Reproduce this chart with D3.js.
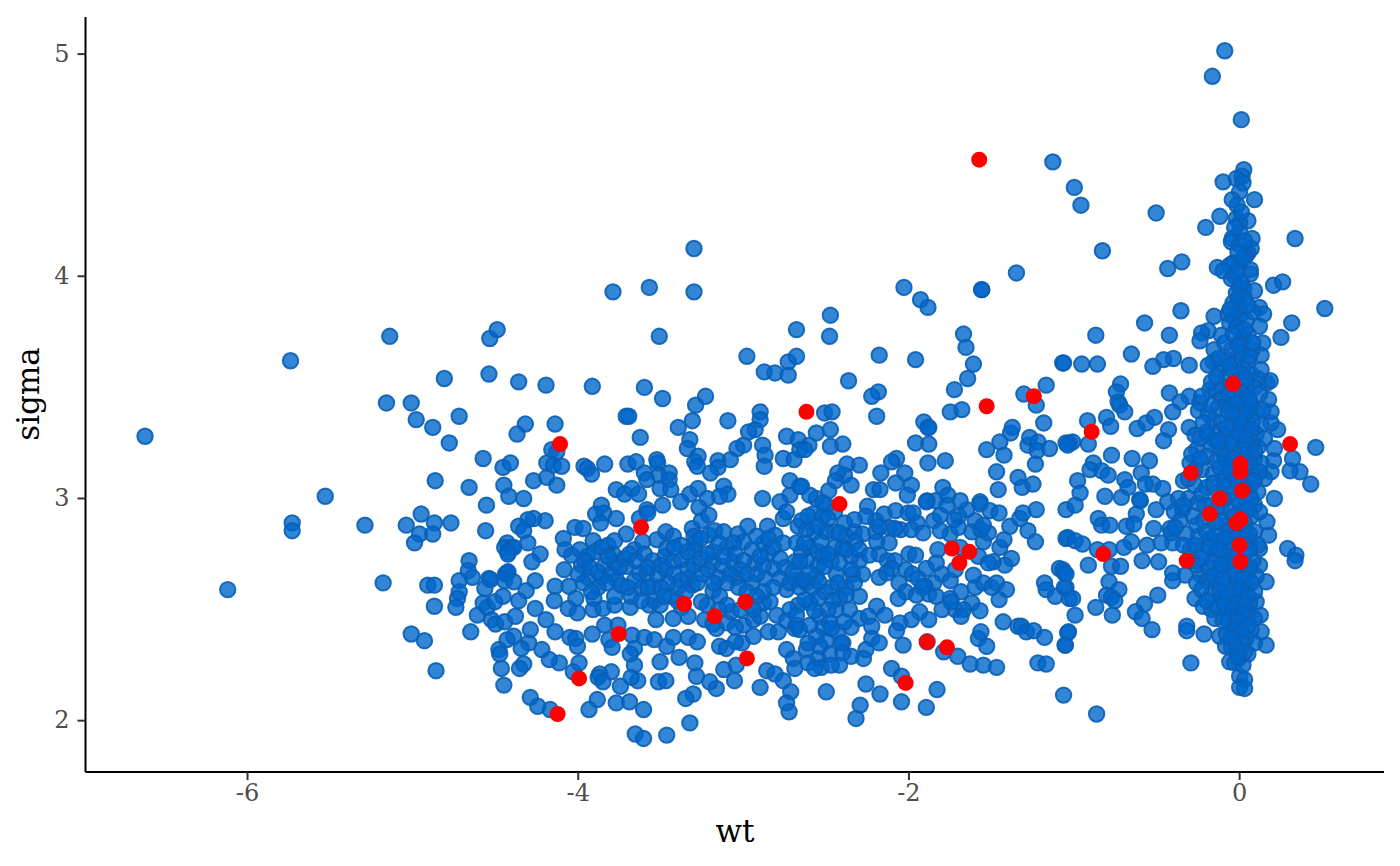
<!DOCTYPE html>
<html><head><meta charset="utf-8"><style>html,body{margin:0;background:#fff}svg{display:block}</style>
<script src="https://cdn.jsdelivr.net/npm/d3@7"></script></head><body><div id="c"></div>
<script>
const xTicks=[-6,-4,-2,0];
const yTicks=[2,3,4,5];
const xLabel="wt", yLabel="sigma";
const leftPoints=[[-6.62,3.28],[-6.12,2.59],[-5.74,3.62],[-5.53,3.01],[-5.73,2.89],[-5.73,2.855],[-5.29,2.88],[-5.18,2.62],[-5.14,3.73],[-5.16,3.43],[-5.01,3.43],[-4.98,3.355],[-4.88,3.32],[-4.81,3.54],[-4.72,3.37],[-4.78,3.25],[-4.54,3.56],[-4.535,3.72],[-4.49,3.76],[-4.575,3.18],[-4.865,3.08],[-4.66,3.05],[-4.555,2.97],[-4.56,2.855],[-4.95,2.93],[-5.04,2.88],[-4.87,2.89],[-4.77,2.89],[-4.96,2.84],[-4.99,2.80],[-4.88,2.84],[-4.455,3.14],[-4.41,3.16],[-4.45,3.06],[-4.42,3.01],[-4.43,2.80],[-4.445,2.78],[-4.425,2.76],[-4.40,2.78],[-4.66,2.72],[-4.665,2.675],[-4.64,2.645],[-4.72,2.63],[-4.91,2.61],[-4.87,2.61],[-4.72,2.58],[-4.73,2.55],[-4.74,2.51],[-4.87,2.515],[-4.61,2.475],[-4.65,2.40],[-5.01,2.39],[-4.93,2.36],[-4.86,2.225],[-4.575,2.53],[-4.55,2.51],[-4.54,2.64],[-4.53,2.635],[-4.565,2.595],[-4.505,2.535],[-4.455,2.56],[-4.525,2.455],[-4.50,2.435],[-4.445,2.445],[-4.48,2.32],[-4.475,2.30],[-4.465,2.235],[-4.45,2.16],[-4.43,2.665],[-4.44,2.66]];
const upperMid=[[-3.30,4.125],[-3.79,3.93],[-3.57,3.95],[-3.30,3.93],[-3.51,3.73],[-2.68,3.76],[-2.98,3.64],[-2.875,3.57],[-2.81,3.565],[-2.73,3.555],[-2.73,3.615],[-2.68,3.64],[-4.36,3.525],[-4.195,3.51],[-3.915,3.505],[-3.60,3.50],[-3.49,3.45],[-3.23,3.46],[-3.29,3.42],[-3.31,3.35],[-3.395,3.32],[-3.095,3.35],[-3.71,3.37],[-3.695,3.37],[-2.90,3.39],[-2.90,3.355],[-2.93,3.31],[-2.97,3.30],[-3.00,3.24],[-3.04,3.225],[-2.885,3.24],[-2.87,3.195],[-2.875,3.145],[-2.74,3.28],[-2.67,3.265],[-2.66,3.22],[-2.76,3.18],[-2.695,3.175],[-4.32,3.335],[-4.37,3.29],[-4.14,3.335],[-3.625,3.275],[-3.325,3.265],[-3.34,3.225],[-3.275,3.19],[-3.295,3.165],[-3.28,3.145],[-3.155,3.17],[-3.155,3.14],[-3.08,3.175],[-3.20,3.115],[-4.16,3.22],[-4.13,3.21],[-4.19,3.16],[-4.15,3.15],[-4.10,3.145],[-3.965,3.145],[-3.945,3.135],[-3.92,3.11],[-3.84,3.155],[-3.70,3.155],[-3.65,3.165],[-3.60,3.115],[-3.585,3.085],[-3.525,3.175],[-3.52,3.16],[-3.51,3.105],[-3.45,3.115],[-3.45,3.085],[-3.505,3.045],[-3.44,3.04],[-3.77,3.04],[-3.72,3.02],[-3.675,3.045],[-3.635,3.02],[-4.27,3.08],[-4.19,3.095],[-4.13,3.06],[-4.33,3.00],[-3.325,3.02],[-3.275,3.045],[-3.22,3.00],[-3.12,3.055],[-3.095,3.02],[-3.145,3.01],[-3.38,2.985],[-3.49,2.97],[-3.27,2.96],[-2.885,3.00],[-2.72,3.08],[-2.72,3.015],[-2.78,2.985],[-2.66,3.055],[-3.86,2.97],[-3.585,2.95]];
const lowerMid=[[-3.895,2.93],[-3.845,2.935],[-3.865,2.89],[-3.77,2.91],[-3.63,2.91],[-3.58,2.935],[-4.2,2.90],[-4.27,2.91],[-4.305,2.905],[-4.36,2.875],[-4.33,2.855],[-4.305,2.80],[-4.39,2.78],[-4.425,2.75],[-4.23,2.75],[-4.28,2.715],[-4.09,2.82],[-4.02,2.87],[-3.97,2.865],[-3.91,2.81],[-4.08,2.77],[-4.04,2.745],[-3.99,2.77],[-3.945,2.74],[-3.98,2.70],[-4.085,2.68],[-3.94,2.645],[-4.425,2.67],[-4.445,2.63],[-4.39,2.625],[-4.26,2.63],[-4.315,2.585],[-4.36,2.54],[-4.14,2.605],[-4.055,2.605],[-4.145,2.54],[-4.015,2.55],[-3.905,2.55],[-4.06,2.505],[-4.005,2.485],[-3.91,2.50],[-3.85,2.505],[-3.78,2.52],[-3.685,2.51],[-3.78,2.56],[-3.86,2.645],[-3.77,2.635],[-3.74,2.61],[-3.78,2.71],[-3.71,2.695],[-3.79,2.75],[-3.82,2.79],[-3.78,2.81],[-3.71,2.84],[-3.66,2.77],[-3.61,2.805],[-3.525,2.815],[-3.47,2.85],[-3.425,2.83],[-3.465,2.775],[-3.475,2.74],[-3.425,2.715],[-3.375,2.725],[-3.31,2.865],[-3.255,2.90],[-3.21,2.925],[-3.21,2.835],[-3.175,2.855],[-3.12,2.85],[-3.295,2.80],[-3.295,2.77],[-3.185,2.76],[-3.185,2.715],[-3.335,2.685],[-3.215,2.68],[-3.125,2.695],[-3.065,2.715],[-3.035,2.84],[-2.975,2.875],[-3.0,2.805],[-2.95,2.77],[-2.93,2.71],[-2.855,2.875],[-2.81,2.835],[-2.76,2.91],[-2.74,2.94],[-2.76,2.80],[-2.85,2.755],[-2.67,2.875],[-2.68,2.80],[-2.82,2.685],[-2.69,2.715],[-2.74,2.59],[-2.68,2.635],[-2.87,2.64],[-2.95,2.62],[-3.045,2.645],[-3.155,2.645],[-3.185,2.585],[-3.145,2.56],[-3.255,2.535],[-3.075,2.49],[-3.335,2.64],[-3.31,2.61],[-3.44,2.56],[-3.55,2.605],[-3.62,2.595],[-3.585,2.665],[-3.63,2.665],[-3.52,2.655],[-3.54,2.54],[-3.57,2.52],[-3.505,2.52],[-3.375,2.51],[-3.335,2.47],[-3.425,2.46],[-3.53,2.455],[-3.235,2.455],[-3.185,2.435],[-3.165,2.415],[-3.00,2.43],[-2.94,2.455],[-2.88,2.53],[-2.84,2.535],[-2.80,2.475],[-2.69,2.415],[-2.79,2.40],[-2.85,2.40],[-2.94,2.38],[-3.01,2.35],[-3.05,2.355],[-3.145,2.335],[-3.105,2.325],[-3.045,2.25],[-3.12,2.23],[-3.055,2.18],[-3.165,2.145],[-3.205,2.175],[-2.90,2.15],[-2.86,2.225],[-2.81,2.21],[-2.76,2.18],[-2.715,2.13],[-2.74,2.08],[-2.725,2.04],[-2.74,2.32],[-2.70,2.28],[-2.69,2.235],[-3.325,1.99],[-3.465,1.935],[-3.655,1.94],[-3.605,1.92],[-3.605,2.05],[-3.69,2.085],[-3.77,2.08],[-3.885,2.095],[-3.935,2.05],[-4.17,2.05],[-4.245,2.065],[-4.29,2.105],[-4.03,2.22],[-3.995,2.26],[-4.115,2.26],[-4.175,2.275],[-4.22,2.32],[-4.30,2.35],[-4.345,2.325],[-4.33,2.255],[-4.355,2.235],[-4.29,2.41],[-4.39,2.38],[-4.43,2.365],[-4.38,2.47],[-4.26,2.505],[-4.195,2.455],[-4.14,2.40],[-4.05,2.375],[-4.015,2.37],[-4.005,2.335],[-3.915,2.39],[-3.84,2.43],[-3.76,2.43],[-3.815,2.365],[-3.795,2.33],[-3.675,2.385],[-3.60,2.375],[-3.54,2.365],[-3.66,2.325],[-3.685,2.30],[-3.66,2.25],[-3.505,2.265],[-3.465,2.335],[-3.425,2.375],[-3.39,2.285],[-3.335,2.375],[-3.28,2.355],[-3.295,2.26],[-3.285,2.20],[-3.305,2.12],[-3.35,2.10],[-3.515,2.175],[-3.47,2.18],[-3.64,2.18],[-3.68,2.195],[-3.745,2.155],[-3.80,2.22],[-3.87,2.21],[-3.88,2.195],[-3.85,2.175]];
const midDense=[[-3.96,2.72],[-3.93,2.69],[-3.88,2.67],[-3.84,2.7],[-3.82,2.74],[-3.9,2.76],[-3.86,2.78],[-3.8,2.66],[-3.83,2.62],[-3.88,2.6],[-3.92,2.58],[-3.97,2.62],[-4.0,2.66],[-3.75,2.69],[-3.72,2.73],[-3.69,2.75],[-3.65,2.72],[-3.6,2.75],[-3.55,2.72],[-3.58,2.69],[-3.5,2.7],[-3.47,2.68],[-3.42,2.66],[-3.38,2.63],[-3.4,2.6],[-3.46,2.62],[-3.5,2.6],[-3.58,2.6],[-3.66,2.63],[-3.7,2.6],[-3.68,2.56],[-3.62,2.54],[-3.48,2.56],[-3.4,2.54],[-3.35,2.58],[-3.28,2.62],[-3.25,2.66],[-3.3,2.7],[-3.26,2.73],[-3.22,2.75],[-3.34,2.76],[-3.38,2.79],[-3.42,2.78],[-3.3,2.83],[-3.26,2.82],[-3.1,2.78],[-3.06,2.8],[-3.15,2.8],[-3.12,2.74],[-3.05,2.75],[-3.0,2.72],[-3.02,2.68],[-3.08,2.66],[-3.1,2.62],[-3.18,2.62],[-3.03,2.6],[-2.98,2.58],[-2.98,2.66],[-2.92,2.66],[-2.88,2.7],[-2.9,2.74],[-2.88,2.8],[-2.92,2.83],[-2.85,2.82],[-2.82,2.78],[-2.78,2.73],[-2.75,2.69],[-2.78,2.64],[-2.82,2.6],[-2.88,2.58],[-2.92,2.56],[-2.96,2.52],[-3.02,2.5],[-3.1,2.52],[-3.15,2.5],[-3.22,2.52],[-3.1,2.44],[-3.05,2.42],[-2.9,2.47],[-2.94,2.5],[-2.72,2.62],[-2.7,2.67],[-2.66,2.6],[-2.62,2.62],[-2.58,2.6],[-2.56,2.65],[-2.55,2.7],[-2.62,2.72],[-2.65,2.76],[-2.6,2.78],[-2.55,2.76],[-2.52,2.74],[-2.47,2.72],[-2.45,2.78],[-2.44,2.66],[-2.47,2.6],[-2.51,2.58],[-2.55,2.55],[-2.6,2.53],[-2.67,2.52],[-2.72,2.5],[-2.74,2.45],[-2.68,2.43],[-2.54,2.47],[-2.52,2.42],[-2.44,2.5],[-2.42,2.55],[-2.38,2.6],[-2.34,2.66],[-2.3,2.72],[-2.28,2.66],[-2.35,2.74],[-2.4,2.78],[-2.38,2.83],[-2.45,2.85],[-2.5,2.85],[-2.57,2.85],[-2.62,2.86],[-2.65,2.9],[-2.58,2.93],[-2.52,2.92],[-2.45,2.94],[-2.5,2.97],[-2.56,3.0],[-2.33,2.85],[-2.28,2.84],[-2.2,2.85],[-2.2,2.9],[-2.15,2.93],[-2.12,2.87],[-2.05,2.86],[-2.18,2.75],[-2.13,2.72],[-2.0,2.75],[-2.02,2.68],[-1.98,2.66],[-2.06,2.62],[-2.02,2.58],[-2.3,2.56],[-2.3,2.46],[-2.35,2.42],[-2.43,2.4],[-2.4,2.35],[-2.5,2.36],[-2.56,2.38],[-2.62,2.32],[-2.55,2.28],[-2.48,2.3],[-2.42,2.25],[-2.53,2.24],[-1.85,2.62],[-1.8,2.66],[-1.75,2.63],[-1.72,2.68],[-1.88,2.57],[-1.92,2.6],[-1.75,2.55],[-1.72,2.5],[-1.62,2.53],[-1.6,2.6],[-1.55,2.62],[-1.5,2.6],[-1.62,2.85],[-1.6,2.9],[-1.75,2.84],[-1.65,2.95],[-1.85,2.9],[-1.95,2.89],[-1.84,2.99],[-1.45,2.78],[-1.38,2.73],[-1.42,2.7],[-1.7,2.92]];
const upperRightMid=[[-2.03,3.95],[-1.93,3.895],[-1.885,3.86],[-1.56,3.94],[-1.56,3.94],[-1.35,4.015],[-2.475,3.825],[-2.48,3.73],[-2.18,3.645],[-1.96,3.625],[-1.67,3.74],[-1.655,3.68],[-1.61,3.605],[-1.645,3.54],[-1.725,3.49],[-1.75,3.39],[-1.68,3.40],[-2.365,3.53],[-2.185,3.48],[-2.225,3.46],[-2.195,3.37],[-2.51,3.385],[-2.465,3.39],[-2.475,3.31],[-2.56,3.295],[-2.475,3.235],[-2.40,3.245],[-2.605,3.24],[-2.63,3.22],[-1.91,3.345],[-1.88,3.32],[-1.885,3.32],[-1.96,3.25],[-1.88,3.245],[-1.885,3.16],[-1.78,3.17],[-2.075,3.18],[-2.105,3.165],[-2.30,3.15],[-2.375,3.155],[-2.43,3.115],[-2.39,3.105],[-2.445,3.08],[-2.35,3.06],[-2.485,3.035],[-2.17,3.115],[-2.025,3.115],[-2.08,3.07],[-1.985,3.06],[-2.01,3.015],[-2.215,3.04],[-2.175,3.04],[-1.89,2.99],[-1.795,3.05],[-1.765,3.015],[-1.69,2.99],[-1.57,2.985],[-1.46,3.04],[-1.47,3.12],[-1.34,3.095],[-1.315,3.05],[-1.25,3.065],[-1.235,3.155],[-1.425,3.195],[-1.53,3.22],[-1.45,3.255],[-1.385,3.295],[-1.375,3.32],[-1.28,3.24],[-1.27,3.275],[-1.22,3.255],[-1.225,3.215],[-1.15,3.225],[-1.05,3.25],[-1.03,3.25],[-1.185,3.34],[-1.23,3.42],[-1.305,3.47],[-1.17,3.51],[-1.07,3.61],[-2.65,3.055],[-2.60,3.015],[-2.52,2.98]];
const lowerRightMid=[[-2.25,2.965],[-2.26,2.92],[-2.33,2.905],[-2.39,2.89],[-2.49,2.91],[-2.61,2.92],[-2.55,2.875],[-2.42,2.845],[-2.53,2.805],[-2.63,2.80],[-2.49,2.75],[-2.38,2.77],[-2.325,2.805],[-2.30,2.77],[-2.24,2.745],[-2.195,2.805],[-2.18,2.875],[-2.12,2.80],[-2.08,2.945],[-2.085,2.865],[-2.005,2.935],[-1.975,2.935],[-1.985,2.86],[-1.915,2.845],[-1.81,2.855],[-1.895,2.985],[-1.81,2.925],[-1.77,2.97],[-1.725,2.905],[-1.70,2.87],[-1.57,2.975],[-1.51,2.945],[-1.455,2.935],[-1.39,2.875],[-1.33,2.91],[-1.31,2.935],[-1.23,2.95],[-1.28,2.855],[-1.235,2.805],[-1.425,2.815],[-1.55,2.805],[-1.52,2.845],[-1.565,2.86],[-1.55,2.88],[-1.69,2.78],[-1.61,2.655],[-1.58,2.74],[-1.49,2.715],[-1.52,2.71],[-1.825,2.77],[-1.835,2.71],[-1.895,2.685],[-1.96,2.745],[-1.945,2.64],[-1.905,2.605],[-2.085,2.72],[-2.105,2.685],[-2.135,2.665],[-2.18,2.645],[-1.47,2.62],[-1.41,2.59],[-1.455,2.545],[-1.685,2.58],[-1.835,2.56],[-1.955,2.565],[-2.065,2.55],[-1.745,2.535],[-1.67,2.50],[-1.685,2.47],[-1.57,2.495],[-1.80,2.50],[-1.88,2.455],[-1.935,2.49],[-1.985,2.455],[-2.055,2.44],[-2.075,2.405],[-2.035,2.34],[-2.195,2.515],[-2.145,2.475],[-2.245,2.47],[-2.225,2.425],[-2.225,2.37],[-2.18,2.35],[-2.26,2.32],[-2.275,2.28],[-2.35,2.29],[-2.41,2.35],[-2.54,2.335],[-2.61,2.35],[-2.47,2.25],[-2.61,2.26],[-2.57,2.235],[-2.40,2.305],[-2.50,2.13],[-2.26,2.165],[-2.175,2.12],[-2.295,2.07],[-2.32,2.01],[-2.105,2.235],[-2.045,2.20],[-2.045,2.085],[-1.895,2.06],[-1.83,2.14],[-1.89,2.355],[-1.79,2.31],[-1.705,2.29],[-1.63,2.255],[-1.55,2.25],[-1.47,2.24],[-1.58,2.37],[-1.565,2.40],[-1.53,2.335],[-1.43,2.445],[-1.34,2.425],[-1.32,2.425],[-1.29,2.40],[-1.245,2.405],[-1.18,2.375],[-1.22,2.26],[-1.17,2.255],[-1.065,2.115],[-1.055,2.34],[-1.04,2.395],[-1.09,2.685],[-1.06,2.665],[-1.18,2.62],[-1.17,2.59],[-1.115,2.56],[-1.05,2.60],[-1.03,2.55],[-1.05,2.95],[-1.05,2.82],[-2.64,2.635],[-2.545,2.625],[-2.43,2.62],[-2.33,2.62],[-2.38,2.565],[-2.46,2.54],[-2.63,2.545],[-2.36,2.50],[-2.49,2.50],[-2.57,2.495],[-2.68,2.475],[-2.66,2.41],[-2.60,2.43],[-2.48,2.44],[-2.39,2.445],[-2.47,2.415],[-2.51,2.695],[-2.42,2.71],[-2.35,2.68],[-2.66,2.715],[-2.60,2.665]];
const upperRight=[[-0.09,5.015],[-0.165,4.90],[0.01,4.705],[0.025,4.48],[0.015,4.45],[-0.10,4.425],[-0.02,4.44],[0.02,4.42],[0,4.38],[0.09,4.345],[-0.045,4.345],[-0.015,4.32],[-0.12,4.27],[-0.205,4.22],[0.05,4.25],[-0.02,4.26],[0,4.24],[0,4.20],[-0.045,4.17],[-0.05,4.155],[0.075,4.17],[0.07,4.125],[0.05,4.105],[0.035,4.09],[0,4.14],[0,4.065],[-0.04,4.06],[-0.06,4.05],[0.065,4.03],[0.065,4.01],[-0.135,4.04],[-0.10,4.025],[-0.03,4.00],[-0.05,3.99],[0.335,4.17],[-0.35,4.065],[-0.435,4.035],[-0.505,4.285],[-1.00,4.40],[-0.96,4.32],[-1.13,4.515],[-0.83,4.115],[0.205,3.96],[0.26,3.975],[0.515,3.855],[0.315,3.79],[0.25,3.725],[0.025,3.945],[0.09,3.935],[-0.02,3.925],[0.12,3.86],[0.145,3.83],[0,3.87],[-0.035,3.815],[-0.04,3.88],[0.12,3.775],[0.05,3.74],[0,3.705],[0.14,3.70],[0.13,3.645],[0.075,3.67],[-0.025,3.62],[0.05,3.615],[-0.355,3.845],[-0.155,3.82],[-0.07,3.83],[-0.575,3.79],[-0.87,3.735],[-0.425,3.735],[-0.19,3.755],[-0.23,3.745],[-0.24,3.71],[-0.11,3.735],[-0.155,3.67],[-0.16,3.615],[-0.655,3.65],[-0.40,3.63],[-0.46,3.625],[-0.525,3.595],[-0.305,3.60],[-1.065,3.61],[-0.955,3.605],[-0.86,3.605],[-0.07,3.625],[-0.06,3.79],[0.01,3.83]];
const lowerRight=[[-0.72,3.515],[-0.745,3.48],[-0.735,3.435],[-0.725,3.42],[-0.695,3.39],[-0.425,3.475],[-0.305,3.46],[-0.36,3.435],[-0.405,3.39],[-0.24,3.43],[-0.92,3.35],[-0.805,3.365],[-0.78,3.325],[-0.62,3.315],[-0.565,3.34],[-0.515,3.365],[-0.43,3.31],[-0.46,3.26],[-0.915,3.245],[-1.01,3.255],[-1.04,3.24],[-0.775,3.195],[-0.885,3.16],[-0.905,3.13],[-0.835,3.125],[-0.795,3.105],[-0.65,3.18],[-0.545,3.17],[-0.595,3.115],[-0.695,3.085],[-0.675,3.05],[-0.98,3.08],[-0.965,3.025],[-0.995,2.97],[-0.815,3.01],[-0.715,3.005],[-0.605,2.995],[-0.6,2.99],[-0.525,3.065],[-0.57,3.065],[-0.465,3.045],[-0.435,2.985],[-0.395,2.94],[-0.345,2.95],[-0.505,2.95],[-0.625,2.93],[-0.855,2.91],[-0.835,2.88],[-0.785,2.88],[-0.685,2.875],[-0.64,2.885],[-0.52,2.865],[-0.42,2.865],[-0.415,2.845],[-0.405,2.80],[-0.475,2.80],[-1.04,2.825],[-0.995,2.81],[-0.95,2.795],[-0.655,2.805],[-0.70,2.78],[-0.56,2.79],[-0.86,2.77],[-0.79,2.77],[-0.915,2.70],[-0.775,2.695],[-0.72,2.695],[-0.59,2.72],[-0.49,2.715],[-0.405,2.665],[-0.405,2.63],[-0.33,2.655],[-0.235,2.655],[-0.79,2.625],[-0.73,2.59],[-0.495,2.565],[-1.07,2.68],[-1.05,2.66],[-1.06,2.60],[-1.01,2.55],[-0.805,2.565],[-0.775,2.555],[-0.755,2.54],[-0.87,2.51],[-0.77,2.475],[-0.995,2.475],[-0.575,2.525],[-0.63,2.49],[-0.59,2.46],[-0.53,2.41],[-1.035,2.40],[-1.055,2.34],[-0.865,2.03],[-0.295,2.26],[-0.32,2.425],[-0.32,2.405],[-0.215,2.39],[-0.27,2.55],[-0.22,2.515],[-0.17,2.50],[-0.15,2.46],[-0.12,2.38],[-0.085,2.335],[-0.06,2.265],[-0.005,2.28],[0,2.20],[0.03,2.185],[0,2.15],[0.03,2.145],[0.16,2.34],[0.13,2.40],[0.125,2.475],[0.10,2.535],[0.16,2.625],[0.12,2.70],[0.12,2.775],[0.175,2.835],[0.165,2.895],[0.21,3.00],[0.34,2.745],[0.29,2.775],[0.335,2.72],[0.43,3.065],[0.365,3.12],[0.305,3.125],[0.32,3.18],[0.46,3.23],[0.21,3.225],[0.205,3.17],[0.19,3.12],[0.15,3.09],[0.23,3.31],[0.19,3.34],[0.19,3.39],[0.175,3.445],[0.165,3.52],[0.185,3.53],[-0.14,3.49],[-0.18,3.49],[-0.17,3.525],[-0.25,3.395],[-0.305,3.32],[-0.27,3.285],[-0.20,3.285],[-0.15,3.26],[-0.16,3.35],[-0.08,3.43],[0.01,3.445],[0.05,3.46],[0.03,3.53]];
const centralColumn=[[-0.12,3.58],[-0.08,3.55],[-0.03,3.57],[0.02,3.59],[0.07,3.56],[0.11,3.54],[0.13,3.58],[-0.1,3.5],[-0.05,3.51],[0,3.52],[0.04,3.49],[0.09,3.5],[0.12,3.47],[-0.11,3.45],[-0.03,3.46],[0.02,3.41],[0.07,3.42],[0.1,3.39],[0.14,3.4],[-0.13,3.41],[-0.07,3.39],[-0.02,3.37],[0.03,3.36],[0.08,3.35],[0.13,3.33],[-0.19,3.38],[-0.11,3.34],[-0.05,3.33],[0,3.31],[0.05,3.3],[0.1,3.29],[0.15,3.27],[-0.22,3.34],[-0.14,3.3],[-0.09,3.28],[-0.03,3.27],[0.02,3.25],[0.07,3.24],[0.11,3.23],[-0.24,3.27],[-0.17,3.24],[-0.11,3.22],[-0.06,3.21],[-0.01,3.2],[0.04,3.19],[0.09,3.18],[0.13,3.16],[-0.26,3.22],[-0.2,3.19],[-0.14,3.17],[-0.08,3.16],[-0.03,3.14],[0.03,3.13],[0.08,3.1],[0.12,3.12],[-0.3,3.16],[-0.23,3.13],[-0.16,3.11],[-0.1,3.09],[-0.05,3.08],[0.01,3.07],[0.06,3.05],[0.11,3.03],[-0.34,3.08],[-0.27,3.06],[-0.2,3.05],[-0.13,3.03],[-0.07,3.02],[-0.02,3.0],[0.04,2.99],[0.09,2.97],[-0.31,3.0],[-0.25,2.98],[-0.17,2.97],[-0.11,2.96],[-0.05,2.94],[0.01,2.93],[0.07,2.92],[0.12,2.94],[-0.36,2.9],[-0.28,2.92],[-0.22,2.9],[-0.15,2.89],[-0.08,2.88],[-0.03,2.87],[0.03,2.86],[0.09,2.85],[-0.32,2.84],[-0.25,2.83],[-0.18,2.82],[-0.12,2.81],[-0.06,2.8],[0,2.84],[0.06,2.81],[0.11,2.79],[-0.3,2.77],[-0.22,2.76],[-0.15,2.75],[-0.09,2.74],[-0.03,2.73],[0.03,2.75],[0.08,2.72],[-0.26,2.7],[-0.19,2.69],[-0.12,2.68],[-0.06,2.67],[0,2.68],[0.05,2.66],[0.1,2.65],[-0.2,2.63],[-0.14,2.62],[-0.08,2.6],[-0.02,2.61],[0.04,2.6],[0.09,2.58],[-0.17,2.57],[-0.11,2.55],[-0.05,2.54],[0.01,2.56],[0.06,2.53],[-0.13,2.51],[-0.07,2.49],[-0.01,2.5],[0.05,2.48],[0.09,2.46],[-0.1,2.45],[-0.04,2.43],[0.02,2.44],[0.07,2.41],[-0.08,2.39],[-0.02,2.38],[0.04,2.37],[0.09,2.35],[-0.05,2.33],[0,2.32],[0.05,2.3],[-0.03,2.26],[0.02,2.25],[0,3.95],[0.03,3.9],[-0.01,3.85],[0.04,3.8],[0.08,3.84],[-0.02,3.77],[0.02,3.72],[0.08,3.7],[-0.05,3.67],[0.01,3.66],[-0.09,3.7],[-0.13,3.63]];
const centralExtra=[[0.01,3.97],[-0.02,4.02],[0.02,4.08],[-0.01,4.11],[0.03,4.16],[-0.03,4.22],[0.01,4.29],[-0.01,3.9],[0.05,3.87],[-0.06,3.85],[0.03,3.76],[-0.04,3.74],[-0.01,3.69],[0.06,3.64],[-0.06,3.6],[0.01,3.56],[-0.01,3.53],[0.04,3.54],[-0.07,3.47],[0.06,3.44],[-0.02,3.43],[-0.04,3.38],[0.04,3.39],[0.01,3.34],[-0.08,3.32],[0.07,3.31],[-0.01,3.29],[0.04,3.27],[-0.05,3.25],[-0.13,3.26],[0.09,3.21],[0.02,3.22],[-0.09,3.19],[-0.04,3.18],[0.06,3.16],[-0.12,3.14],[0.01,3.11],[-0.06,3.12],[0.09,3.08],[-0.02,3.09],[-0.16,3.07],[-0.09,3.06],[0.03,3.04],[-0.04,3.03],[-0.23,3.02],[0.07,3.0],[-0.1,3.0],[0,2.98],[-0.21,2.97],[-0.14,2.95],[0.05,2.95],[-0.03,2.92],[-0.26,2.88],[-0.12,2.9],[0.03,2.89],[-0.06,2.86],[-0.2,2.85],[-0.15,2.83],[0.06,2.84],[-0.02,2.82],[-0.09,2.82],[0.02,2.8],[-0.27,2.79],[-0.05,2.77],[-0.18,2.78],[-0.12,2.77],[0.06,2.77],[-0.02,2.75],[-0.23,2.73],[-0.16,2.71],[0.02,2.71],[-0.07,2.71],[-0.11,2.7],[0.06,2.69],[-0.03,2.66],[-0.16,2.65],[-0.1,2.64],[0.02,2.64],[0.07,2.62],[-0.04,2.59],[0.01,2.59],[-0.12,2.58],[-0.07,2.56],[0.05,2.56],[-0.02,2.53],[0.03,2.52],[-0.09,2.52],[-0.04,2.5],[0.02,2.48],[-0.07,2.45],[-0.01,2.45],[0.05,2.43],[-0.03,2.41],[0.01,2.4],[-0.05,2.37],[0.02,2.35],[-0.02,2.33],[0.03,2.31],[-0.01,2.29],[-0.37,3.0],[-0.31,3.09],[-0.27,3.13],[-0.29,3.2],[-0.34,2.97],[-0.39,2.87],[-0.34,2.79],[-0.29,2.72],[-0.26,2.62],[-0.23,2.59],[-0.2,2.54],[-0.24,3.18],[-0.2,3.3],[-0.17,3.42],[-0.23,3.46],[-0.14,3.55],[-0.19,3.6]];
const highlighted=[[-1.575,4.525],[-4.11,3.245],[-3.62,2.87],[-4.125,2.03],[-3.995,2.19],[-3.36,2.525],[-3.175,2.47],[-2.99,2.535],[-2.98,2.28],[-3.755,2.39],[-2.62,3.39],[-2.42,2.975],[-1.53,3.415],[-1.245,3.46],[-1.74,2.775],[-1.635,2.76],[-1.695,2.71],[-2.02,2.17],[-1.89,2.355],[-1.77,2.33],[-0.04,3.515],[-0.895,3.30],[0.305,3.245],[-0.295,3.115],[0.005,3.155],[0.005,3.12],[0.015,3.035],[-0.12,3.00],[-0.18,2.93],[-0.02,2.89],[0.005,2.905],[0,2.79],[0.005,2.715],[-0.32,2.72],[-0.825,2.75]];
const allPoints=[...leftPoints,...upperMid,...lowerMid,...midDense,...upperRightMid,...lowerRightMid,...upperRight,...lowerRight,...centralColumn,...centralExtra];

const W=1400,H=866,L=85.5,R=1384,T=17,B=772;
const x=d3.scaleLinear().domain([-6.98,0.873]).range([L,R]);
const y=d3.scaleLinear().domain([1.769,5.167]).range([B,T]);
const svg=d3.select("#c").append("svg").attr("width",W).attr("height",H);
const serif="'DejaVu Serif',serif";
svg.selectAll("circle.b").data(allPoints).join("circle").attr("class","b")
 .attr("cx",d=>x(d[0])).attr("cy",d=>y(d[1])).attr("r",7.7)
 .attr("fill","#0066cc").attr("fill-opacity",.8).attr("stroke","#0a5fb4").attr("stroke-opacity",.9).attr("stroke-width",2);
svg.selectAll("circle.r").data(highlighted).join("circle").attr("class","r")
 .attr("cx",d=>x(d[0])).attr("cy",d=>y(d[1])).attr("r",8).attr("fill","#ff0000");
const style=(g)=>{g.selectAll(".domain").attr("stroke","#000").attr("stroke-width",2);
 g.selectAll(".tick line").attr("stroke","#333").attr("stroke-width",2);
 g.selectAll(".tick text").attr("fill","#4d4d4d").attr("font-family",serif).attr("font-size",24);};
const fmt=d=>String(d);
svg.append("g").attr("transform",`translate(0,${B})`)
 .call(d3.axisBottom(x).tickValues(xTicks).tickFormat(fmt).tickSize(8).tickSizeOuter(0).tickPadding(4).offset(0)).call(style);
svg.append("g").attr("transform",`translate(${L},0)`)
 .call(d3.axisLeft(y).tickValues(yTicks).tickFormat(fmt).tickSize(8).tickSizeOuter(0).tickPadding(8).offset(0)).call(style);
svg.append("text").attr("x",735).attr("y",842).attr("text-anchor","middle").attr("font-family",serif).attr("font-size",31).attr("fill","#000").text(xLabel);
svg.append("text").attr("transform",`translate(39,394) rotate(-90)`).attr("text-anchor","middle").attr("font-family",serif).attr("font-size",31).attr("fill","#000").text(yLabel);
</script></body></html>
